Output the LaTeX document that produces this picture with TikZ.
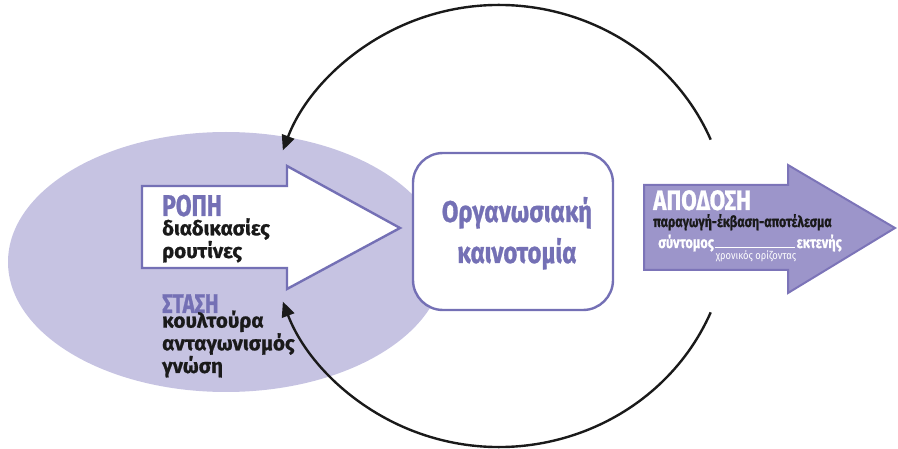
\documentclass[tikz,border=0pt]{standalone}
\usepackage{fontspec}
\setmainfont{Fira Sans}[BoldFeatures={FakeBold=0.8}]
\newfontfamily\condfont{Fira Sans}[FakeStretch=0.8, BoldFeatures={FakeBold=0.8}]
\newfontfamily\headfont{Fira Sans}[FakeStretch=0.76, BoldFeatures={FakeBold=0.8}]
\newfontfamily\plainfont{Fira Sans}[FakeStretch=0.85]
\usetikzlibrary{arrows.meta}
\definecolor{ellfill}{HTML}{C6C3E2}
\definecolor{violet}{HTML}{7470B5}
\definecolor{arrowfill}{HTML}{9C95CA}
\definecolor{arrowline}{HTML}{7C74B8}
\definecolor{ink}{HTML}{1A1A1A}
\tikzset{
  outline/.style={draw=violet, line width=2.4pt},
  loop/.style={draw=ink, line width=2.4pt, -{Triangle[length=15pt,width=13pt]}},
  head/.style={anchor=base west, inner sep=0pt, font=\headfont\bfseries\fontsize{30}{30}\selectfont},
  body/.style={anchor=base west, inner sep=0pt, align=left, text=ink, font=\bfseries\fontsize{20.5}{17}\selectfont},
}
\begin{document}
\begin{tikzpicture}[x=1pt,y=-1pt]
\useasboundingbox (0,0) rectangle (898,449);
% ellipse
\fill[ellfill] (226,262) ellipse[x radius=218pt, y radius=130pt];
% white arrow
\draw[outline, fill=white] (142,186) -- (287,186) -- (287,166) -- (400,228) -- (287,289) -- (287,268) -- (142,268) -- cycle;
% feedback arcs start points
\coordinate (topstart) at ({499+230*cos(23)},{226-221*sin(23)});
\coordinate (botstart) at ({499+230*cos(23)},{226+221*sin(23)});
% rounded box
\node[outline, fill=white, rounded corners=30pt, minimum width=200pt, minimum height=157pt, inner sep=0pt] (box) at (513,231.5) {};
\node[text=violet, align=center, font=\condfont\bfseries\fontsize{30}{41}\selectfont, anchor=base] (innov) at (517,263) {Οργανωσιακή\\καινοτομία};
% purple arrow
\draw[draw=arrowline, line width=2pt, fill=arrowfill] (644,185) -- (788,185) -- (788,165) -- (895,228) -- (788,293) -- (788,270) -- (644,270) -- cycle;
% texts
\node[head, text=violet] (ropi) at (162,216) {ΡΟΠΗ};
\node[body] (ropitxt) at (162,258) {διαδικασίες\\ρουτίνες};
\node[head, text=violet, font=\headfont\bfseries\fontsize{27}{27}\selectfont] (stasi) at (162,313) {ΣΤΑΣΗ};
\node[body, font=\bfseries\fontsize{20.5}{19}\selectfont] (stasitxt) at (162,373) {κουλτούρα\\ανταγωνισμός\\γνώση};
\node[head, text=white, font=\condfont\bfseries\fontsize{28}{28}\selectfont] (apodosi) at (653,210) {ΑΠΟΔΟΣΗ};
\node[anchor=base west, inner sep=0pt, text=ink, font=\condfont\bfseries\fontsize{15.5}{16}\selectfont] (output) at (653,227) {παραγωγή-έκβαση-αποτέλεσμα};
\node[anchor=base west, inner sep=0pt, text=white, font=\condfont\bfseries\fontsize{16}{16}\selectfont] (short) at (658,248) {σύντομος};
\node[anchor=base east, inner sep=0pt, text=white, font=\condfont\bfseries\fontsize{16}{16}\selectfont] (long) at (842,248) {εκτενής};
\draw[white, line width=1pt] (715,248) -- (795,248);
\node[anchor=base, inner sep=0pt, text=white, font=\plainfont\fontsize{11}{11}\selectfont] (horizon) at (756,260) {χρονικός ορίζοντας};
% arcs
\draw[loop] (topstart) arc[start angle=23, end angle=160, x radius=230pt, y radius=221pt];
\draw[loop] (botstart) arc[start angle=-23, end angle=-160, x radius=230pt, y radius=221pt];
\end{tikzpicture}
\end{document}
